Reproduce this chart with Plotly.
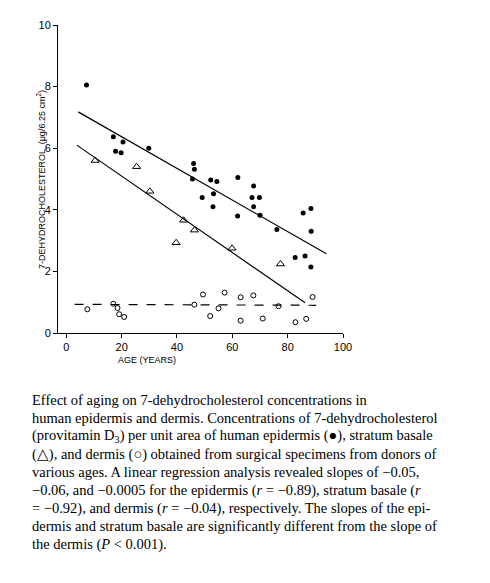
import plotly.graph_objects as go

epi_age = [7.3,17,17.8,19.8,20.5,29.8,46,46.3,45.6,49.1,52.2,54.4,53.2,53,62,61.9,67.7,67.1,69.8,67.7,70,76.1,85.6,88.4,88.5,82.7,86.3,88.4]
epi_val = [8.05,6.37,5.9,5.85,6.2,6.0,5.5,5.32,5.0,4.4,4.97,4.92,4.52,4.1,5.05,3.8,4.77,4.4,4.4,4.1,3.82,3.36,3.9,4.04,3.3,2.45,2.5,2.14]
bas_age = [10.4,25.4,30.2,42.4,39.7,46.3,59.9,77.4]
bas_val = [5.6,5.4,4.6,3.66,2.93,3.34,2.75,2.24]
der_age = [7.6,17,18.5,19.1,20.9,46.3,49.4,57.2,55,52,63,63,67.6,71,76.7,82.8,86.7,89]
der_val = [0.77,0.95,0.81,0.61,0.52,0.92,1.25,1.31,0.8,0.55,1.16,0.4,1.22,0.47,0.87,0.35,0.46,1.17]
epi_fit_x = [4.3, 94]; epi_fit_y = [7.18, 2.57]
bas_fit_x = [3.8, 86.3]; bas_fit_y = [6.1, 0.98]
der_fit_x = [3, 90.3]; der_fit_y = [0.93, 0.90]

caption = [
    "Effect of aging on 7-dehydrocholesterol concentrations in",
    "human epidermis and dermis. Concentrations of 7-dehydrocholesterol",
    "(provitamin D<sub>3</sub>) per unit area of human epidermis (●), stratum basale",
    "(△), and dermis (○) obtained from surgical specimens from donors of",
    "various ages. A linear regression analysis revealed slopes of −0.05,",
    "−0.06, and −0.0005 for the epidermis (<i>r</i> = −0.89), stratum basale (<i>r</i>",
    "= −0.92), and dermis (<i>r</i> = −0.04), respectively. The slopes of the epi-",
    "dermis and stratum basale are significantly different from the slope of",
    "the dermis (<i>P</i> < 0.001).",
]

L, R, T, B = 50, 155, 17, 258
W, H = 490, 583
pw, ph = W - L - R, H - T - B
def px(x): return (x - L) / pw
def py(y): return (H - B - y) / ph

fig = go.Figure()
fig.add_trace(go.Scatter(x=epi_fit_x, y=epi_fit_y, mode="lines", line=dict(color="black", width=1.2)))
fig.add_trace(go.Scatter(x=bas_fit_x, y=bas_fit_y, mode="lines", line=dict(color="black", width=1.2)))
fig.add_trace(go.Scatter(x=der_fit_x, y=der_fit_y, mode="lines", line=dict(color="black", width=1.2, dash="dash")))
fig.add_trace(go.Scatter(x=epi_age, y=epi_val, mode="markers", marker=dict(color="black", size=5)))
fig.add_trace(go.Scatter(x=bas_age, y=bas_val, mode="markers", marker=dict(symbol="triangle-up-open", color="black", size=7, line=dict(width=1))))
fig.add_trace(go.Scatter(x=der_age, y=der_val, mode="markers", marker=dict(symbol="circle-open", color="black", size=5, line=dict(width=1))))

anns = [
    dict(text="AGE (YEARS)", x=px(108), y=py(352), xanchor="left", yanchor="middle"),
    dict(text="7-DEHYDROCHOLESTEROL  (μg/6.25 cm<sup>2</sup>)", x=px(33), y=py(172), textangle=-90, xanchor="center", yanchor="middle"),
]
for a in anns:
    a.update(xref="paper", yref="paper", showarrow=False, font=dict(family="Liberation Sans", size=9, color="black"))
for i, line in enumerate(caption):
    anns.append(dict(text=line, xref="paper", yref="paper", x=px(22), y=py(392 + 18 * i), xanchor="left", yanchor="middle",
                     showarrow=False, font=dict(family="Liberation Serif", size=14.5, color="black")))

fig.update_layout(
    width=W, height=H, margin=dict(l=L, r=R, t=T, b=B), showlegend=False,
    plot_bgcolor="white", paper_bgcolor="white", annotations=anns,
    xaxis=dict(range=[-3, 100], tickvals=[0, 20, 40, 60, 80, 100], showgrid=False, zeroline=False,
               showline=True, linecolor="black", ticks="outside", ticklen=4, tickcolor="black",
               tickfont=dict(family="Liberation Sans", size=11, color="black")),
    yaxis=dict(range=[0, 10], tickvals=[0, 2, 4, 6, 8, 10], showgrid=False, zeroline=False,
               showline=True, linecolor="black", ticks="outside", ticklen=4, tickcolor="black",
               tickfont=dict(family="Liberation Sans", size=11, color="black")),
)
fig.write_html("out.html")
